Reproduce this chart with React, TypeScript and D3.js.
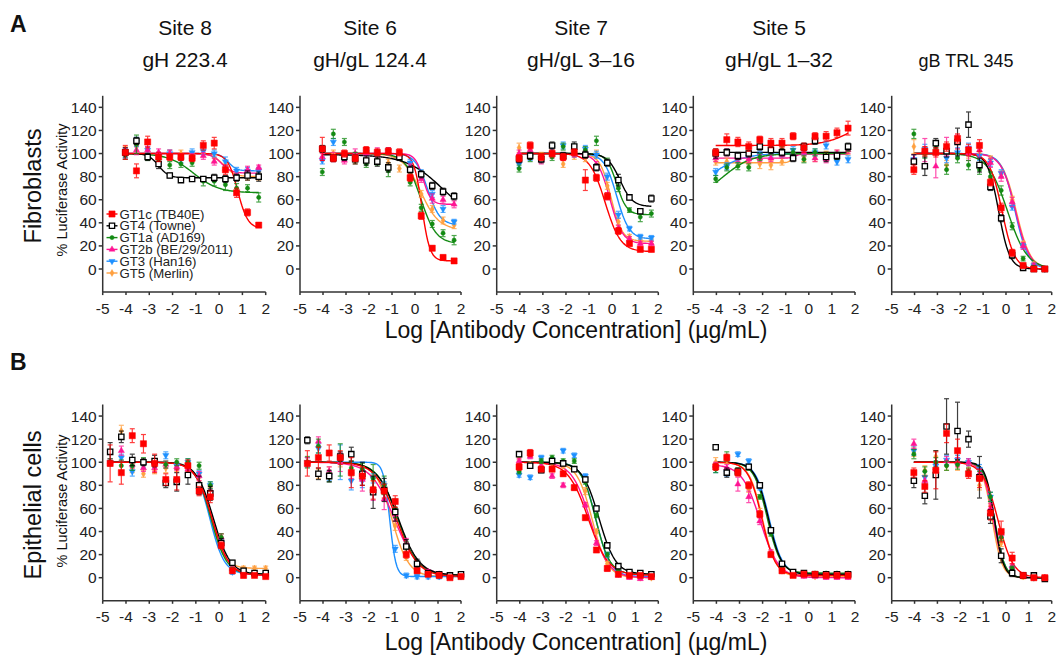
import React from 'react';
import * as d3 from 'd3';

const W = 1060;
const H = 655;
const FONT = "Arial, 'Liberation Sans', Helvetica, sans-serif";

// strains in legend order
const strains = ['GT1c (TB40E)', 'GT4 (Towne)', 'GT1a (AD169)', 'GT2b (BE/29/2011)', 'GT3 (Han16)', 'GT5 (Merlin)'];
const colors = ['#ff0000', '#000000', '#138a13', '#ff1493', '#1e90ff', '#ffa040'];

// log10 antibody concentration (µg/mL) of the dilution points
const doses13 = [-4.03, -3.55, -3.07, -2.6, -2.12, -1.64, -1.16, -0.68, -0.21, 0.27, 0.75, 1.22, 1.7];
const doses15 = [-4.68, -4.2, -3.73, -3.25, -2.77, -2.29, -1.82, -1.34, -0.86, -0.38, 0.09, 0.57, 1.05, 1.52, 2.0];

const xTicks = [-5, -4, -3, -2, -1, 0, 1, 2];
const yTicks = [0, 20, 40, 60, 80, 100, 120, 140];

const colTitles = [
  ['Site 8', 'gH 223.4'],
  ['Site 6', 'gH/gL 124.4'],
  ['Site 7', 'gH/gL 3–16'],
  ['Site 5', 'gH/gL 1–32'],
  ['', 'gB TRL 345'],
];
const rowTitles = ['Fibroblasts', 'Epithelial cells'];

// ---- Fibroblasts (row A) ----
const fibSite8 = [
  [101, 85, 110, 97, 97, 97, 96, 107, 109, 86, 66, 49, 38],
  [101, 111, 97, 91, 81, 77, 78, 78, 79, 78, 79, 81, 80],
  [99, 108, 97, 95, 90, 91, 92, 76, 76, 73, 70, 70, 62],
  [100, 103, 103, 101, 100, 97, 97, 98, 93, 87, 80, 86, 88],
  [100, 110, 103, 98, 100, 95, 101, 102, 100, 93, 85, 85, 85],
  [102, 106, 103, 98, 100, 100, 97, 100, 96, 88, 80, 80, 80],
];
const fibSite8Err = [
  [6, 6, 5, 4, 3, 3, 3, 4, 5, 4, 4, 3, 2],
  [4, 3, 3, 4, 2, 2, 2, 2, 3, 3, 3, 4, 4],
  [4, 8, 3, 3, 3, 3, 3, 4, 4, 5, 4, 3, 4],
  [5, 4, 3, 3, 3, 3, 3, 3, 3, 3, 3, 3, 2],
  [4, 4, 3, 3, 3, 3, 3, 3, 3, 4, 3, 3, 3],
  [4, 4, 3, 3, 3, 3, 3, 3, 3, 3, 3, 3, 3],
];
// [top, bottom, logEC50, hill]
const fibSite8Fit = [[100, 35, 0.8, 2], [100, 79, -2.6, 2], [100, 66, -1.1, 0.8], [100, 83, 0.1, 2], [100, 85, 0.4, 2.5], [100, 80, 0.2, 1.8]];

const fibSite6 = [
  [104, 96, 100, 96, 103, 101, 102, 101, 79, 46, 18, 10, 7],
  [104, 96, 97, 95, 94, 93, 88, 97, 86, 82, 72, 67, 63],
  [84, 117, 110, 97, 91, 94, 85, 98, 75, 53, 39, 31, 25],
  [97, 97, 94, 100, 100, 101, 102, 99, 88, 78, 61, 60, 56],
  [94, 110, 97, 97, 101, 100, 102, 99, 92, 83, 65, 52, 41],
  [103, 100, 97, 94, 96, 96, 92, 87, 80, 65, 52, 42, 38],
];
const fibSite6Err = [
  [10, 3, 3, 3, 3, 3, 3, 3, 3, 3, 2, 2, 2],
  [3, 3, 3, 4, 4, 4, 4, 3, 3, 3, 3, 3, 3],
  [3, 4, 3, 4, 3, 4, 5, 3, 3, 3, 3, 3, 4],
  [3, 4, 3, 4, 4, 4, 3, 3, 3, 3, 4, 3, 3],
  [3, 3, 3, 3, 3, 3, 3, 3, 3, 3, 3, 3, 2],
  [3, 3, 3, 3, 3, 3, 3, 3, 3, 3, 3, 3, 3],
];
const fibSite6Fit = [[100, 7, 0.3, 2.5], [99, 40, 1.2, 0.55], [100, 22, 0.25, 1.3], [100, 56, 0.35, 2.5], [100, 38, 0.55, 1.6], [100, 34, 0.25, 1.1]];

const fibSite7 = [
  [96, 107, 97, 100, 97, 101, 77, 79, 63, 33, 22, 17, 17],
  [95, 98, 95, 107, 98, 106, 99, 88, 92, 77, 62, 50, 61],
  [87, 96, 97, 97, 106, 105, 103, 111, 93, 70, 51, 45, 48],
  [100, 103, 94, 99, 97, 100, 99, 90, 63, 35, 26, 22, 22],
  [91, 97, 96, 105, 107, 100, 104, 99, 80, 47, 35, 28, 27],
  [105, 100, 98, 101, 91, 98, 96, 100, 72, 41, 28, 25, 24],
];
const fibSite7Err = [
  [3, 3, 3, 3, 3, 3, 9, 3, 3, 3, 2, 2, 2],
  [3, 3, 3, 3, 3, 4, 3, 3, 3, 5, 2, 2, 3],
  [3, 3, 3, 3, 3, 3, 3, 4, 3, 3, 2, 4, 3],
  [3, 3, 3, 3, 3, 3, 3, 3, 3, 3, 2, 2, 2],
  [3, 3, 3, 3, 3, 3, 3, 3, 3, 3, 2, 2, 2],
  [4, 3, 3, 3, 3, 3, 3, 3, 3, 3, 2, 2, 2],
];
const fibSite7Fit = [[100, 15, -0.3, 1.3], [100, 54, 0.34, 1.6], [100, 47, 0.2, 2], [100, 22, -0.1, 1.6], [100, 26, 0.2, 1.6], [100, 24, -0.05, 1.8]];

const fibSite5 = [
  [101, 112, 110, 106, 112, 109, 109, 115, 105, 115, 115, 118, 122],
  [100, 101, 98, 100, 106, 103, 101, 96, 106, 111, 97, 98, 106],
  [78, 88, 89, 88, 97, 102, 103, 101, 95, 101, 98, 98, 105],
  [96, 101, 96, 95, 96, 96, 99, 97, 101, 96, 95, 100, 103],
  [84, 89, 95, 97, 99, 100, 100, 103, 102, 101, 107, 93, 95],
  [93, 93, 92, 92, 91, 90, 93, 101, 96, 96, 99, 100, 102],
];
const fibSite5Err = [
  [3, 5, 4, 4, 3, 4, 4, 3, 4, 3, 4, 4, 6],
  [4, 3, 3, 3, 3, 3, 3, 3, 3, 3, 4, 3, 3],
  [3, 3, 3, 3, 3, 3, 3, 3, 3, 3, 3, 3, 3],
  [3, 3, 3, 3, 3, 3, 3, 3, 3, 3, 3, 3, 3],
  [3, 3, 3, 3, 3, 3, 3, 3, 3, 3, 3, 3, 3],
  [3, 3, 3, 3, 4, 4, 3, 3, 3, 3, 3, 3, 3],
];
const fibSite5Fit = [[107, 135, 2, 0.7], [101, 101, 0, 1], [60, 100, -3.7, 0.7], [96, 99.5, -0.6, 4], [70, 100, -4, 0.7], [92, 100, -0.7, 5]];

const fibGB = [
  [86, 102, 101, 106, 113, 103, 107, 75, 53, 14, 3, 0, 0],
  [93, 89, 109, 102, 110, 125, 90, 71, 44, 12, 1, 0, 0],
  [117, 100, 107, 86, 96, 90, 86, 80, 68, 37, 9, 1, 0],
  [95, 103, 89, 106, 110, 100, 103, 92, 80, 58, 20, 3, 0],
  [95, 104, 107, 96, 101, 105, 98, 92, 83, 54, 20, 3, 0],
  [106, 102, 103, 90, 100, 100, 100, 95, 82, 60, 22, 4, 0],
];
const fibGBErr = [
  [4, 4, 4, 4, 4, 5, 5, 3, 4, 3, 2, 2, 1],
  [6, 8, 4, 5, 12, 11, 6, 3, 3, 3, 2, 2, 1],
  [4, 4, 3, 4, 4, 4, 4, 4, 4, 3, 2, 2, 1],
  [4, 10, 10, 8, 6, 6, 6, 4, 4, 4, 3, 2, 1],
  [4, 4, 4, 4, 4, 4, 4, 3, 3, 3, 2, 2, 1],
  [6, 4, 4, 4, 4, 4, 4, 3, 3, 3, 2, 2, 1],
];
const fibGBFit = [[100, 0, -0.17, 1.6], [100, 0, -0.32, 1.8], [100, 0, 0.07, 1.0], [100, 0, 0.42, 1.4], [100, 0, 0.4, 1.5], [100, 0, 0.45, 1.4]];

// ---- Epithelial cells (row B) ----
const epiSite8 = [
  [99, 91, 123, 116, 99, 85, 85, 97, 75, 70, 28, 6, 2, 2, 1],
  [109, 122, 102, 100, 101, 82, 83, 89, 80, 73, 30, 13, 6, 4, 4],
  [100, 97, 97, 101, 100, 98, 100, 100, 97, 80, 35, 7, 5, 4, 4],
  [100, 110, 98, 95, 95, 98, 96, 94, 88, 76, 35, 8, 4, 3, 2],
  [100, 104, 92, 98, 100, 106, 97, 100, 90, 80, 30, 5, 4, 3, 3],
  [100, 127, 95, 90, 93, 95, 95, 97, 87, 75, 35, 8, 8, 8, 8],
];
const epiSite8Err = [
  [16, 10, 6, 8, 8, 5, 9, 5, 4, 5, 3, 2, 2, 1, 1],
  [8, 5, 5, 3, 5, 4, 8, 8, 8, 6, 4, 2, 2, 2, 2],
  [3, 5, 4, 3, 3, 3, 3, 3, 3, 3, 3, 2, 2, 2, 2],
  [3, 4, 3, 3, 3, 3, 3, 5, 4, 4, 3, 2, 2, 2, 2],
  [3, 3, 4, 3, 3, 3, 3, 3, 3, 3, 3, 2, 2, 2, 2],
  [3, 5, 4, 3, 3, 4, 3, 3, 3, 3, 3, 2, 2, 2, 2],
];
const epiSite8Fit = [[100, 2, -0.3, 1.2], [100, 3, -0.25, 1.2], [100, 3, -0.35, 1.3], [100, 2, -0.3, 1.2], [100, 3, -0.4, 1.4], [100, 8, -0.4, 1.4]];

const epiSite6 = [
  [99, 104, 108, 104, 91, 88, 76, 75, 66, 20, 6, 3, 2, 0, 1],
  [119, 90, 88, 105, 107, 90, 74, 76, 57, 27, 12, 4, 3, 2, 3],
  [100, 114, 87, 102, 95, 94, 86, 80, 60, 26, 10, 4, 2, 2, 2],
  [100, 118, 92, 100, 92, 85, 77, 68, 55, 30, 10, 5, 3, 2, 2],
  [100, 112, 88, 100, 84, 84, 86, 80, 25, 2, 1, 1, 1, 1, 1],
  [100, 90, 92, 100, 93, 90, 84, 78, 45, 18, 8, 4, 2, 1, 1],
];
const epiSite6Err = [
  [11, 9, 7, 6, 13, 8, 8, 6, 5, 3, 2, 2, 2, 1, 1],
  [3, 5, 5, 4, 6, 10, 14, 10, 8, 6, 4, 2, 2, 2, 2],
  [5, 6, 4, 14, 6, 5, 12, 8, 8, 5, 3, 2, 2, 2, 2],
  [4, 4, 4, 8, 6, 10, 10, 9, 6, 4, 3, 2, 2, 2, 2],
  [4, 4, 4, 15, 8, 6, 4, 3, 3, 2, 2, 2, 2, 2, 2],
  [4, 4, 4, 4, 5, 6, 5, 4, 4, 3, 2, 2, 2, 2, 2],
];
const epiSite6Fit = [[100, 1, -0.8, 0.95], [100, 2, -0.72, 0.95], [100, 2, -0.75, 1.0], [100, 2, -0.9, 0.85], [100, 1, -1.1, 3.2], [100, 1, -1.0, 1.2]];

const epiSite7 = [
  [96, 108, 94, 94, 90, 78, 52, 24, 8, 3, 2, 2, 1],
  [107, 97, 93, 101, 99, 94, 85, 60, 28, 10, 5, 4, 3],
  [92, 97, 101, 104, 101, 101, 83, 54, 20, 6, 4, 3, 3],
  [101, 105, 97, 88, 80, 78, 63, 30, 8, 2, 0, -1, 0],
  [89, 87, 104, 102, 110, 106, 88, 60, 20, 5, 2, 1, 1],
  [104, 98, 97, 100, 97, 94, 75, 40, 12, 3, 1, 0, 0],
];
const epiSite7Err = [
  [3, 3, 2, 2, 2, 2, 2, 2, 2, 1, 1, 1, 1],
  [2, 2, 2, 2, 2, 2, 2, 2, 2, 1, 1, 1, 1],
  [2, 2, 2, 2, 2, 2, 2, 2, 2, 1, 1, 1, 1],
  [2, 2, 2, 2, 2, 2, 2, 2, 2, 1, 1, 1, 1],
  [2, 2, 2, 2, 2, 2, 2, 2, 2, 1, 1, 1, 1],
  [2, 2, 2, 2, 2, 2, 3, 2, 2, 1, 1, 1, 1],
];
const epiSite7Fit = [[100, 2, -1.03, 1.0], [100, 3, -0.57, 1.2], [100, 3, -0.72, 1.4], [100, 0, -0.95, 1.1], [100, 1, -0.7, 1.4], [100, 0, -0.86, 1.3]];

const epiSite5 = [
  [96, 104, 91, 80, 55, 20, 6, 2, 3, 3, 2, 2, 2],
  [113, 91, 92, 96, 80, 41, 12, 5, 4, 3, 3, 3, 3],
  [94, 105, 92, 95, 70, 38, 8, 5, 4, 4, 4, 4, 4],
  [97, 95, 81, 70, 49, 22, 8, 2, 1, 1, 0, 0, 0],
  [95, 91, 107, 101, 78, 40, 10, 4, 3, 3, 3, 3, 3],
  [100, 102, 92, 77, 57, 22, 6, 3, 2, 1, 1, 1, 1],
];
const epiSite5Err = [
  [3, 3, 3, 3, 3, 2, 2, 1, 1, 1, 1, 1, 1],
  [2, 4, 3, 2, 2, 2, 2, 1, 1, 1, 1, 1, 1],
  [3, 4, 3, 2, 2, 2, 2, 1, 1, 1, 1, 1, 1],
  [3, 3, 6, 5, 3, 2, 2, 1, 1, 1, 1, 1, 1],
  [4, 3, 2, 2, 2, 2, 2, 1, 1, 1, 1, 1, 1],
  [4, 3, 3, 3, 3, 2, 2, 1, 1, 1, 1, 1, 1],
];
const epiSite5Fit = [[100, 2, -2.03, 1.5], [100, 3, -1.75, 1.5], [100, 4, -1.8, 1.5], [98, 0, -2.1, 1.1], [100, 3, -1.72, 1.5], [100, 1, -2.0, 1.5]];

const epiGB = [
  [91, 79, 93, 125, 110, 90, 86, 56, 40, 17, 2, 0, 0],
  [84, 71, 89, 131, 127, 120, 87, 53, 19, 4, 2, 2, -1],
  [107, 92, 100, 97, 98, 92, 88, 70, 35, 8, 2, 1, 0],
  [116, 84, 95, 101, 100, 100, 90, 60, 38, 10, 2, 0, 0],
  [110, 87, 97, 102, 102, 100, 94, 70, 38, 8, 2, 0, 0],
  [109, 93, 105, 97, 97, 98, 80, 55, 30, 6, 1, 0, 0],
];
const epiGBErr = [
  [4, 5, 16, 8, 10, 4, 8, 6, 9, 5, 2, 2, 2],
  [6, 7, 21, 24, 25, 7, 18, 6, 6, 3, 2, 2, 2],
  [4, 4, 4, 4, 4, 3, 4, 4, 3, 2, 2, 1, 1],
  [4, 4, 4, 4, 4, 3, 4, 4, 3, 2, 2, 1, 1],
  [4, 5, 4, 4, 4, 3, 4, 4, 3, 2, 2, 1, 1],
  [4, 4, 5, 4, 4, 3, 4, 4, 3, 2, 2, 1, 1],
];
const epiGBFit = [[100, 0, -0.35, 1.3], [100, 0, -0.5, 2.2], [100, 0, -0.5, 2.0], [100, 0, -0.55, 1.9], [100, 0, -0.5, 2.0], [100, 0, -0.6, 2.0]];

const panels = [
  { row: 0, col: 0, doses: doses13, values: fibSite8, errors: fibSite8Err, fits: fibSite8Fit },
  { row: 0, col: 1, doses: doses13, values: fibSite6, errors: fibSite6Err, fits: fibSite6Fit },
  { row: 0, col: 2, doses: doses13, values: fibSite7, errors: fibSite7Err, fits: fibSite7Fit },
  { row: 0, col: 3, doses: doses13, values: fibSite5, errors: fibSite5Err, fits: fibSite5Fit },
  { row: 0, col: 4, doses: doses13, values: fibGB, errors: fibGBErr, fits: fibGBFit },
  { row: 1, col: 0, doses: doses15, values: epiSite8, errors: epiSite8Err, fits: epiSite8Fit },
  { row: 1, col: 1, doses: doses15, values: epiSite6, errors: epiSite6Err, fits: epiSite6Fit },
  { row: 1, col: 2, doses: doses13, values: epiSite7, errors: epiSite7Err, fits: epiSite7Fit },
  { row: 1, col: 3, doses: doses13, values: epiSite5, errors: epiSite5Err, fits: epiSite5Fit },
  { row: 1, col: 4, doses: doses13, values: epiGB, errors: epiGBErr, fits: epiGBFit },
];

// layout
const colRange = [[102.7, 265.7], [300, 461], [496.7, 658.3], [693.3, 855], [891.7, 1051.7]];
const rowRange = [[292.1, 95.8], [600.8, 404.5]];
const titleX = [185, 370, 581, 779, 966];

const fourPL = (f: number[], x: number) => f[1] + (f[0] - f[1]) / (1 + Math.pow(10, (x - f[2]) * f[3]));

const symbols = [d3.symbolSquare, d3.symbolSquare, d3.symbolCircle, d3.symbolTriangle, d3.symbolTriangle, d3.symbolDiamond];
const symSize = [38, 28, 14, 16, 16, 14];

function Marker({ i, x, y }: { i: number; x: number; y: number }) {
  const d = d3.symbol(symbols[i], symSize[i])() as string;
  const rot = i === 4 ? ' rotate(180)' : '';
  const open = i === 1;
  return (
    <path
      d={d}
      transform={`translate(${x},${y})${rot}`}
      fill={open ? '#fff' : colors[i]}
      stroke={colors[i]}
      strokeWidth={open ? 1.3 : 0.5}
    />
  );
}

function Panel({ p }: { p: (typeof panels)[number] }) {
  const x = d3.scaleLinear().domain([-5, 2]).range(colRange[p.col]);
  const y = d3.scaleLinear().domain([-20, 150]).range(rowRange[p.row]);
  const x0 = x(-5);
  const yBase = y(-20);
  const lo = p.doses[0];
  const hi = p.doses[p.doses.length - 1];
  const grid = d3.range(0, 121).map((k) => lo + ((hi - lo) * k) / 120);
  const order = [5, 4, 3, 2, 1, 0];
  return (
    <g>
      {order.map((s) => {
        const fit = p.fits[s];
        const path = d3
          .line<number>()
          .x((d) => x(d))
          .y((d) => y(fourPL(fit, d)))(grid) as string;
        return <path key={'c' + s} d={path} fill="none" stroke={colors[s]} strokeWidth={1.4} />;
      })}
      {order.map((s) => (
        <g key={'p' + s}>
          {p.values[s].map((v, k) => {
            const cx = x(p.doses[k]);
            const e = p.errors[s][k];
            return (
              <g key={k} stroke={colors[s]} strokeWidth={1.2} opacity={0.75}>
                <line x1={cx} x2={cx} y1={y(v - e)} y2={y(v + e)} />
                <line x1={cx - 2.5} x2={cx + 2.5} y1={y(v - e)} y2={y(v - e)} />
                <line x1={cx - 2.5} x2={cx + 2.5} y1={y(v + e)} y2={y(v + e)} />
              </g>
            );
          })}
          {p.values[s].map((v, k) => (
            <Marker key={'m' + k} i={s} x={x(p.doses[k])} y={y(v)} />
          ))}
        </g>
      ))}
      {/* axes */}
      <g stroke="#333" strokeWidth={1.5} fill="none">
        <line x1={x0} x2={x0} y1={yBase} y2={y(150)} />
        <line x1={x0} x2={x(2)} y1={yBase} y2={yBase} />
        {yTicks.map((t) => (
          <line key={t} x1={x0 - 4} x2={x0} y1={y(t)} y2={y(t)} />
        ))}
        {xTicks.map((t) => (
          <line key={t} x1={x(t)} x2={x(t)} y1={yBase} y2={yBase + 3} />
        ))}
      </g>
      <g fontFamily={FONT} fontSize={15.5} fill="#222">
        {yTicks.map((t) => (
          <text key={t} x={x0 - 6} y={y(t)} textAnchor="end" dominantBaseline="central">
            {t}
          </text>
        ))}
        {xTicks.map((t) => (
          <text key={t} x={x(t)} y={yBase + 16} textAnchor="middle" dominantBaseline="central">
            {t}
          </text>
        ))}
      </g>
    </g>
  );
}

function Legend() {
  const x0 = 106.5;
  const y0 = 214;
  const step = 11.8;
  return (
    <g fontFamily={FONT} fontSize={13.2} fill="#222">
      {strains.map((s, i) => (
        <g key={s}>
          <line x1={x0} x2={x0 + 11} y1={y0 + i * step} y2={y0 + i * step} stroke={colors[i]} strokeWidth={1.4} />
          <Marker i={i} x={x0 + 5.5} y={y0 + i * step} />
          <text x={x0 + 13} y={y0 + i * step} dominantBaseline="central">
            {s}
          </text>
        </g>
      ))}
    </g>
  );
}

export default function App() {
  return (
    <svg width={W} height={H} style={{ position: 'absolute', left: 0, top: 0, background: '#fff' }}>
      <rect width={W} height={H} fill="#fff" />
      <g fontFamily={FONT} fill="#111">
        <text x={10} y={32} fontSize={23} fontWeight="bold">A</text>
        <text x={10} y={370} fontSize={23} fontWeight="bold">B</text>
        {colTitles.map((t, i) => (
          <g key={i} textAnchor="middle">
            {t[0] && (
              <text x={titleX[i]} y={35} fontSize={21}>
                {t[0]}
              </text>
            )}
            <text x={titleX[i]} y={67} fontSize={i === 4 ? 18 : 21}>
              {t[1]}
            </text>
          </g>
        ))}
        {rowTitles.map((t, r) => (
          <text
            key={t}
            transform={`translate(33,${r === 0 ? 186 : 505}) rotate(-90)`}
            textAnchor="middle"
            dominantBaseline="central"
            fontSize={23.5}
          >
            {t}
          </text>
        ))}
        {[190, 501].map((cy) => (
          <text
            key={cy}
            transform={`translate(62,${cy}) rotate(-90)`}
            textAnchor="middle"
            dominantBaseline="central"
            fontSize={14.5}
          >
            % Luciferase Activity
          </text>
        ))}
        {[330, 642].map((cy) => (
          <text key={cy} x={576} y={cy} textAnchor="middle" dominantBaseline="central" fontSize={23}>
            Log [Antibody Concentration] (µg/mL)
          </text>
        ))}
      </g>
      {panels.map((p, i) => (
        <Panel key={i} p={p} />
      ))}
      <Legend />
    </svg>
  );
}
